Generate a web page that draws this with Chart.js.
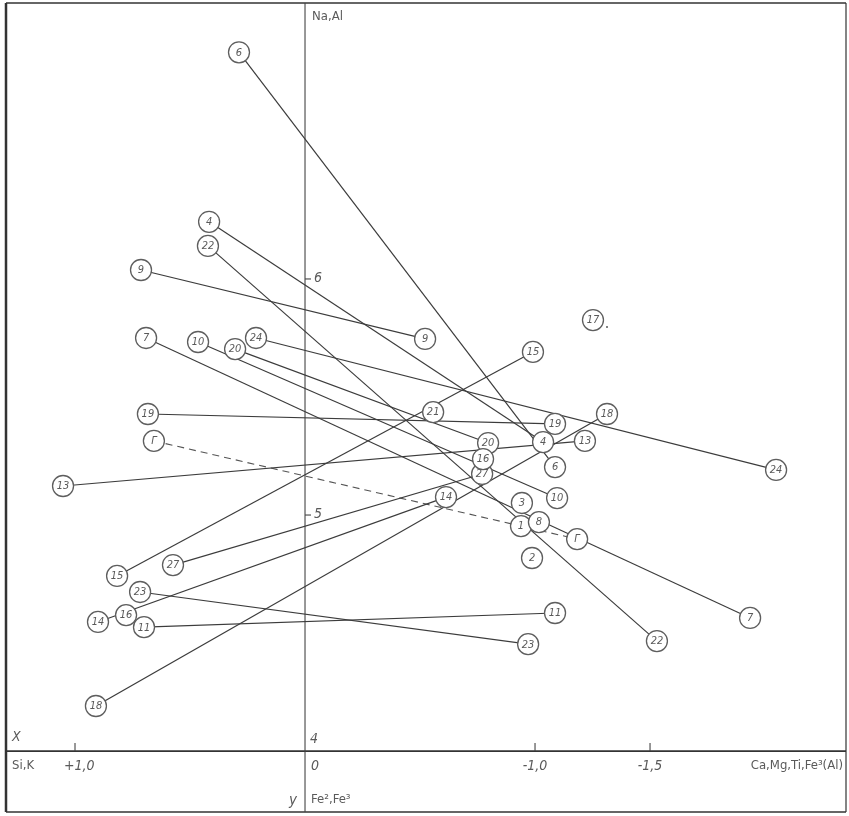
<!DOCTYPE html>
<html>
<head>
<meta charset="utf-8">
<script src="https://cdn.jsdelivr.net/npm/chart.js@4"></script>
<style>
  body { margin: 0; background: #fff; }
  #wrap { width: 849px; height: 816px; }
</style>
</head>
<body>
<div id="wrap"><canvas id="diagram"></canvas></div>
<script>
// sample points: label, x (Si,K -> Ca,Mg,Ti,Fe3), y (Na,Al)
const pointLabels = [
    "6", "6", "4", "4", "22", "22", "9", "9", "7", "7",
    "10", "10", "20", "20", "24", "24", "15", "15", "19", "19",
    "Г", "Г", "13", "13", "27", "27", "14", "14", "16", "16",
    "11", "11", "23", "23", "18", "18", "17", "21", "3", "1", "8", "2"
];
const pointX = [
    0.287, -1.087, 0.417, -1.035, 0.422, -1.530, 0.713, -0.522, 0.691, -1.935,
    0.465, -1.096, 0.304, -0.796, 0.213, -2.048, 0.817, -0.991, 0.683, -1.087,
    0.657, -1.183, 1.052, -1.217, 0.574, -0.770, 0.900, -0.613, 0.778, -0.774,
    0.700, -1.087, 0.717, -0.970, 0.909, -1.313, -1.252, -0.557, -0.943, -0.939, -1.017, -0.987
];
const pointY = [
    6.960, 5.203, 6.242, 5.309, 6.140, 4.466, 6.038, 5.746, 5.750, 4.564,
    5.733, 5.072, 5.703, 5.305, 5.750, 5.191, 4.742, 5.691, 5.428, 5.386,
    5.314, 4.898, 5.123, 5.314, 4.788, 5.174, 4.547, 5.076, 4.576, 5.237,
    4.525, 4.585, 4.674, 4.453, 4.191, 5.428, 5.826, 5.436, 5.051, 4.953, 4.970, 4.818
];
// which points are joined (indexes into the arrays above)
const solidLinks = [
    [0, 1], [2, 3], [4, 5], [6, 7], [8, 9], [10, 11], [12, 13], [14, 15],
    [16, 17], [18, 19], [22, 23], [24, 25], [26, 27], [30, 31], [32, 33], [34, 35]
];
const dashedLinks = [[20, 21]];

const xTicks = [1.0, -1.0, -1.5];
const yTicks = [5, 6];

const FONT = '"Liberation Sans Narrow", "DejaVu Sans Condensed", sans-serif';
const INK = "#3c3c3c";
const TXT = "#5a5a5a";

function pt(i) {
    return { x: pointX[i], y: pointY[i] };
}

let datasets = [];
datasets.push({
    data: pointX.map((_, i) => pt(i)),
    pointRadius: 10.5,
    pointBackgroundColor: "#fff",
    pointBorderColor: "#5e5e5e",
    pointBorderWidth: 1.3,
    showLine: false
});
solidLinks.forEach(l => {
    datasets.push({
        data: [pt(l[0]), pt(l[1])],
        showLine: true,
        borderColor: INK,
        borderWidth: 1.2,
        pointRadius: 0
    });
});
dashedLinks.forEach(l => {
    datasets.push({
        data: [pt(l[0]), pt(l[1])],
        showLine: true,
        borderColor: "#555",
        borderWidth: 1.1,
        borderDash: [7, 5],
        pointRadius: 0
    });
});

const frame = {
    id: "frame",
    beforeDatasetsDraw(chart) {
        const ctx = chart.ctx;
        const a = chart.chartArea;
        const xs = chart.scales.x, ys = chart.scales.y;
        const x0 = xs.getPixelForValue(0);
        const y4 = ys.getPixelForValue(4);
        ctx.save();
        ctx.strokeStyle = "#333";
        // outer border
        ctx.lineWidth = 2.5;
        ctx.beginPath(); ctx.moveTo(a.left, a.top); ctx.lineTo(a.left, a.bottom); ctx.stroke();
        ctx.lineWidth = 1.6;
        ctx.beginPath(); ctx.moveTo(a.left, a.top); ctx.lineTo(a.right, a.top); ctx.stroke();
        ctx.beginPath(); ctx.moveTo(a.left, a.bottom); ctx.lineTo(a.right, a.bottom); ctx.stroke();
        ctx.lineWidth = 1.2;
        ctx.beginPath(); ctx.moveTo(a.right, a.top); ctx.lineTo(a.right, a.bottom); ctx.stroke();
        // axes
        ctx.lineWidth = 1.6;
        ctx.beginPath(); ctx.moveTo(a.left, y4); ctx.lineTo(a.right, y4); ctx.stroke();
        ctx.lineWidth = 1.1;
        ctx.strokeStyle = "#444";
        ctx.beginPath(); ctx.moveTo(x0, a.top); ctx.lineTo(x0, a.bottom); ctx.stroke();
        // ticks
        xTicks.forEach(v => {
            const px = xs.getPixelForValue(v);
            ctx.beginPath(); ctx.moveTo(px, y4); ctx.lineTo(px, y4 - 8); ctx.stroke();
        });
        yTicks.forEach(v => {
            const py = ys.getPixelForValue(v);
            ctx.beginPath(); ctx.moveTo(x0, py); ctx.lineTo(x0 + 6, py); ctx.stroke();
        });

        ctx.fillStyle = TXT;
        ctx.textBaseline = "middle";
        ctx.font = "13px " + FONT;
        ctx.textAlign = "left";
        ctx.fillText("Na,Al", x0 + 7, a.top + 14);
        ctx.font = "italic 14px " + FONT;
        yTicks.forEach(v => {
            ctx.fillText(String(v), x0 + 9, ys.getPixelForValue(v) - 1);
        });
        ctx.fillText("4", x0 + 5, y4 - 12);
        ctx.fillText("X", a.left + 6, y4 - 14);
        ctx.font = "13px " + FONT;
        ctx.fillText("Si,K", a.left + 6, y4 + 15);
        ctx.font = "italic 14px " + FONT;
        ctx.fillText("+1,0", a.left + 58, y4 + 15);
        ctx.fillText("0", x0 + 6, y4 + 15);
        ctx.textAlign = "center";
        ctx.fillText("-1,0", xs.getPixelForValue(-1.0), y4 + 15);
        ctx.fillText("-1,5", xs.getPixelForValue(-1.5), y4 + 15);
        ctx.font = "13px " + FONT;
        ctx.textAlign = "right";
        ctx.fillText("Ca,Mg,Ti,Fe³(Al)", a.right - 3, y4 + 15);
        ctx.font = "italic 15px " + FONT;
        ctx.fillText("y", x0 - 8, y4 + 50);
        ctx.font = "13px " + FONT;
        ctx.textAlign = "left";
        ctx.fillText("Fe²,Fe³", x0 + 6, y4 + 49);
        ctx.restore();
    },
    afterDatasetsDraw(chart) {
        const ctx = chart.ctx;
        const meta = chart.getDatasetMeta(0);
        ctx.save();
        ctx.fillStyle = TXT;
        ctx.font = "italic 11px " + FONT;
        ctx.textAlign = "center";
        ctx.textBaseline = "middle";
        meta.data.forEach((p, i) => {
            ctx.fillText(pointLabels[i], p.x, p.y + 0.5);
        });
        // small dot beside 17
        const p17 = meta.data[36];
        ctx.beginPath(); ctx.arc(p17.x + 14, p17.y + 7, 1, 0, Math.PI * 2); ctx.fill();
        ctx.restore();
    }
};

new Chart(document.getElementById("diagram"), {
    type: "scatter",
    data: { datasets: datasets },
    options: {
        responsive: true,
        maintainAspectRatio: false,
        animation: false,
        layout: { autoPadding: false, padding: { left: 6, right: 3, top: 3, bottom: 4 } },
        plugins: { legend: { display: false }, tooltip: { enabled: false } },
        scales: {
            x: { type: "linear", reverse: true, min: -2.352, max: 1.3, display: false },
            y: { type: "linear", min: 3.742, max: 7.169, display: false }
        }
    },
    plugins: [frame]
});
</script>
</body>
</html>
